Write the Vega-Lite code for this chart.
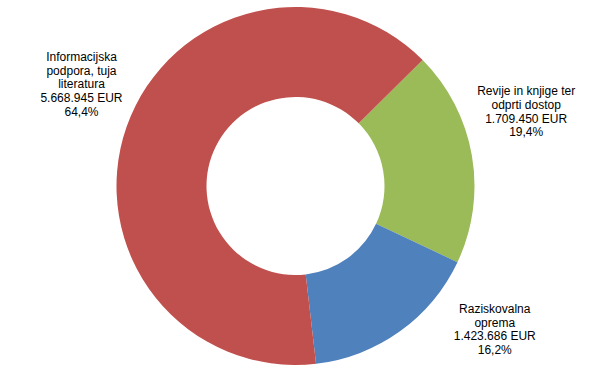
{
  "$schema": "https://vega.github.io/schema/vega-lite/v6.json",
  "width": 589,
  "height": 374,
  "autosize": {"type": "fit", "contains": "padding"},
  "padding": {"left": 6, "right": 4, "top": 4, "bottom": 6},
  "background": "white",
  "view": {"stroke": null},
  "data": {
    "values": [
      {"idx": 0, "cat": "Revije in knjige ter odprti dostop", "value": 1709450, "label": "Revije in knjige ter\nodprti dostop\n1.709.450 EUR\n19,4%"},
      {"idx": 1, "cat": "Raziskovalna oprema", "value": 1423686, "label": "Raziskovalna\noprema\n1.423.686 EUR\n16,2%"},
      {"idx": 2, "cat": "Informacijska podpora, tuja literatura", "value": 5668945, "label": "Informacijska\npodpora, tuja\nliteratura\n5.668.945 EUR\n64,4%"}
    ]
  },
  "encoding": {
    "theta": {"field": "value", "type": "quantitative", "stack": true, "scale": {"range": [0.79, 7.0732]}},
    "order": {"field": "idx", "type": "quantitative"}
  },
  "layer": [
    {
      "mark": {"type": "arc", "innerRadius": 89, "outerRadius": 179, "strokeWidth": 0},
      "encoding": {
        "color": {
          "field": "cat",
          "type": "nominal",
          "scale": {
            "domain": ["Revije in knjige ter odprti dostop", "Raziskovalna oprema", "Informacijska podpora, tuja literatura"],
            "range": ["#9BBB59", "#4F81BD", "#C0504D"]
          },
          "legend": null
        }
      }
    },
    {
      "mark": {
        "type": "text",
        "radius": 230,
        "lineBreak": "\n",
        "font": "Liberation Sans",
        "fontSize": 12,
        "lineHeight": 13.8,
        "color": "black",
        "align": "center",
        "baseline": "middle",
        "dx": {"expr": "datum.idx == 0 ? 4 : datum.idx == 1 ? 65 : 3"},
        "dy": {"expr": "datum.idx == 0 ? -56 : datum.idx == 1 ? -64 : -53"}
      },
      "encoding": {
        "text": {"field": "label", "type": "nominal"}
      }
    }
  ]
}
